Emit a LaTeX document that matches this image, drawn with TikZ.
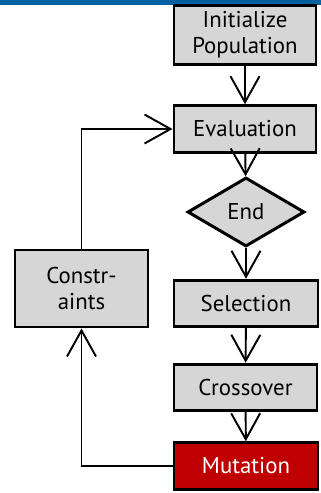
\documentclass[tikz,border=0pt]{standalone}
\usepackage{fontspec}
\setmainfont{PT Sans}
\usepackage{tikz}
\usetikzlibrary{arrows.meta,shapes.geometric}
\definecolor{barblue}{RGB}{0,96,160}
\definecolor{boxgray}{RGB}{214,214,214}
\definecolor{mutred}{RGB}{192,0,0}
\tikzset{
  stepbox/.style={draw, line width=1.7pt, fill=boxgray, minimum width=2.84cm,
    minimum height=0.93cm, align=center, font=\fontsize{13}{15}\selectfont},
  flow/.style={line width=1.1pt, -{Straight Barb[length=0.52cm,width=0.58cm,line width=1.1pt]}}
}
\begin{document}
\begin{tikzpicture}
\useasboundingbox (0,0) rectangle (6.42,9.86);
\fill[barblue] (0,9.76) rectangle (6.42,9.86);
% main column
\node[stepbox, minimum height=1.08cm] (init) at (4.90,9.16) {Initialize\\Population};
\node[stepbox] (eval) at (4.90,7.28) {Evaluation};
\node[stepbox, diamond, minimum width=2.34cm, minimum height=1.38cm, inner sep=0pt,
  aspect=1.7] (end) at (4.92,5.62) {End};
\node[stepbox, minimum width=2.88cm] (sel) at (4.92,3.79) {Selection};
\node[stepbox, minimum width=2.86cm] (cross) at (4.91,2.11) {Crossover};
\node[stepbox, minimum width=2.88cm, fill=mutred, text=white] (mut) at (4.92,0.54) {Mutation};
% side box
\node[stepbox, minimum width=2.66cm, minimum height=1.54cm] (cons) at (1.63,4.09) {Constr-\\aints};
\draw[flow] (init) -- (eval);
\draw[flow] (eval) -- (end);
\draw[flow] (end) -- (sel);
\draw[flow] (sel) -- (cross);
\draw[flow] (cross) -- (mut);
\draw[flow] (mut.west) -| (cons.south);
\draw[flow] (cons.north) |- (eval.west);
\end{tikzpicture}
\end{document}
